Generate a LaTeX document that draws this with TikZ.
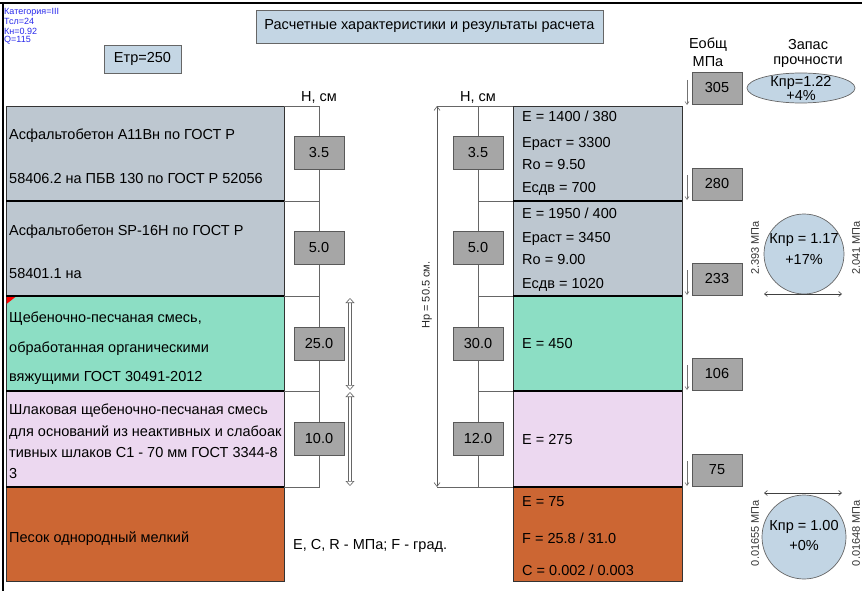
\documentclass[tikz,border=0pt]{standalone}
\usepackage{fontspec}
\setmainfont{Liberation Sans}
\usetikzlibrary{arrows.meta,shapes.geometric}
\newcommand\fmain{\fontsize{14.5}{17}\selectfont}
\newcommand\fsmall{\fontsize{11}{13}\selectfont}
\newcommand\ftiny{\fontsize{9}{10}\selectfont}
\definecolor{layA}{RGB}{189,199,208}
\definecolor{layG}{RGB}{140,222,196}
\definecolor{layP}{RGB}{236,216,240}
\definecolor{layO}{RGB}{204,102,51}
\definecolor{boxgray}{RGB}{166,166,166}
\definecolor{titlefill}{RGB}{196,214,228}
\definecolor{ellfill}{RGB}{194,213,228}
\definecolor{bluetxt}{RGB}{40,40,235}
\begin{document}
\begin{tikzpicture}[x=1pt,y=-1pt,
  every node/.style={inner sep=0pt},
  txt/.style={anchor=base west, font=\fmain, yshift=-5pt},
  ctxt/.style={font=\fmain},
  layer/.style={draw=black!80, line width=0.7pt},
  bound/.style={line width=1.6pt, draw=black},
  hbox/.style={draw=black!65, fill=boxgray, minimum width=50pt, minimum height=33pt, font=\fmain, line width=0.7pt},
  colline/.style={draw=black!60, line width=0.6pt},
  small/.style={font=\fsmall, text=black!80, rotate=90},
  eline/.style={draw=black!55, line width=0.6pt, -{Straight Barb[length=3pt,width=4pt]}},
  harrow/.style={draw=black!75, line width=0.6pt, {Straight Barb[length=3pt,width=5pt]}-{Straight Barb[length=3pt,width=5pt]}},
  darrow/.style={draw=black!60, line width=0.6pt, double=white, double distance=2.5pt, {Triangle[open,length=5pt,width=9pt]}-{Triangle[open,length=5pt,width=9pt]}},
  roundfill/.style={draw=black!60, fill=ellfill, line width=0.7pt}
]
\useasboundingbox (0,0) rectangle (862,591);
% frame
\draw[line width=1.5pt] (0,3) -- (862,3);
\draw[line width=1.5pt] (3,3) -- (3,591);

% top-left info
\node[anchor=west, font=\ftiny, text=bluetxt] (cat) at (4,12) {Категория=III};
\node[anchor=west, font=\ftiny, text=bluetxt] (tsl) at (4,21.5) {Тсл=24};
\node[anchor=west, font=\ftiny, text=bluetxt] (kn) at (4,31) {Кн=0.92};
\node[anchor=west, font=\ftiny, text=bluetxt] (qq) at (4,40.5) {Q=115};

% title and Etr
\node[draw=black!60, fill=titlefill, minimum width=347pt, minimum height=33pt, font=\fmain, line width=0.7pt] (title) at (429.5,26.5) {Расчетные характеристики и результаты расчета};
\node[draw=black!60, fill=titlefill, minimum width=77pt, minimum height=28pt, font=\fmain, line width=0.7pt] (etr) at (142.5,59) {Етр=250};

% left layers
\draw[layer, fill=layA] (6,106) rectangle (284,201);
\draw[layer, fill=layA] (6,201) rectangle (284,296);
\draw[layer, fill=layG] (6,296) rectangle (284,391);
\draw[layer, fill=layP] (6,391) rectangle (284,487);
\draw[layer, fill=layO] (6,487) rectangle (284,581);
\fill[red] (6.5,296.5) -- (16,296.5) -- (6.5,304) -- cycle;
\foreach \yy in {201,296,391,487} \draw[bound] (6,\yy) -- (284,\yy);

% right layers
\draw[layer, fill=layA] (513,106) rectangle (682,201);
\draw[layer, fill=layA] (513,201) rectangle (682,296);
\draw[layer, fill=layG] (513,296) rectangle (682,391);
\draw[layer, fill=layP] (513,391) rectangle (682,487);
\draw[layer, fill=layO] (513,487) rectangle (682,581);
\foreach \yy in {201,296,391,487} \draw[bound] (513,\yy) -- (682,\yy);

% left layer texts
\node[txt] (l1a) at (9,135) {Асфальтобетон А11Вн по ГОСТ Р};
\node[txt] (l1b) at (9,178) {58406.2 на ПБВ 130 по ГОСТ Р 52056};
\node[txt] (l2a) at (9,230) {Асфальтобетон SP-16Н по ГОСТ Р};
\node[txt] (l2b) at (9,273) {58401.1 на};
\node[txt] (l3a) at (9,317) {Щебеночно-песчаная смесь,};
\node[txt] (l3b) at (9,347) {обработанная органическими};
\node[txt] (l3c) at (9,376) {вяжущими ГОСТ 30491-2012};
\node[txt] (l4a) at (9,409) {Шлаковая щебеночно-песчаная смесь};
\node[txt] (l4b) at (9,431) {для оснований из неактивных и слабоак};
\node[txt] (l4c) at (9,452) {тивных шлаков С1 - 70 мм ГОСТ 3344-8};
\node[txt] (l4d) at (9,473) {3};
\node[txt] (l5a) at (9,537) {Песок однородный мелкий};

% right layer texts
\node[txt] (r1a) at (522,117) {E = 1400 / 380};
\node[txt] (r1b) at (522,142) {Ераст = 3300};
\node[txt] (r1c) at (522,164) {Ro = 9.50};
\node[txt] (r1d) at (522,188) {Есдв = 700};
\node[txt] (r2a) at (522,213) {E = 1950 / 400};
\node[txt] (r2b) at (522,237) {Ераст = 3450};
\node[txt] (r2c) at (522,259) {Ro = 9.00};
\node[txt] (r2d) at (522,283) {Есдв = 1020};
\node[txt] (r3a) at (522,343) {E = 450};
\node[txt] (r4a) at (522,439) {E = 275};
\node[txt] (r5a) at (522,501) {E = 75};
\node[txt] (r5b) at (522,538) {F = 25.8 / 31.0};
\node[txt] (r5c) at (522,570) {C = 0.002 / 0.003};

\node[txt] (units) at (293,544) {E, C, R - МПа; F - град.};

% left thickness column
\draw[colline] (284,106) -- (319,106) -- (319,487) -- (284,487);
\foreach \yy in {201,296,391} \draw[colline] (284,\yy) -- (319,\yy);
\node[ctxt] (hl) at (319,97) {Н, см};
\node[hbox] (hl1) at (319,153) {3.5};
\node[hbox] (hl2) at (319,248) {5.0};
\node[hbox] (hl3) at (319,343.5) {25.0};
\node[hbox] (hl4) at (319,438.5) {10.0};

% right thickness column
\draw[colline] (437,106) -- (513,106);
\draw[colline] (437,487) -- (513,487);
\draw[colline] (478,106) -- (478,487);
\foreach \yy in {201,296,391} \draw[colline] (478,\yy) -- (513,\yy);
\node[ctxt] (hr) at (478,97) {Н, см};
\node[hbox] (hr1) at (478,153) {3.5};
\node[hbox] (hr2) at (478,248) {5.0};
\node[hbox] (hr3) at (478,343.5) {30.0};
\node[hbox] (hr4) at (478,438.5) {12.0};

% total thickness dimension
\coordinate (hpt) at (437,106);
\coordinate (hpb) at (437,487);
\draw[draw=black!65, line width=0.6pt, {Straight Barb[length=4pt,width=6pt]}-{Straight Barb[length=4pt,width=6pt]}] (hpt) -- (hpb);
\node[small, text=black!85] (hp) at (427,295) {Нр = 50.5 см.};

% middle double arrows
\coordinate (d1t) at (350,298);
\coordinate (d1b) at (350,390);
\coordinate (d2t) at (350,392);
\coordinate (d2b) at (350,486);
\draw[darrow] (d1t) -- (d1b);
\draw[darrow] (d2t) -- (d2b);

% E total column
\node[ctxt] (eh1) at (708,45) {Еобщ};
\node[ctxt] (eh2) at (708,62) {МПа};
\node[hbox, minimum height=32pt] (e1) at (717,88) {305};
\node[hbox, minimum height=32pt] (e2) at (717,184) {280};
\node[hbox, minimum height=32pt] (e3) at (717,279) {233};
\node[hbox, minimum height=32pt] (e4) at (717,374) {106};
\node[hbox, minimum height=32pt] (e5) at (717,470) {75};
\foreach \yy in {105,200,295,390,486} \draw[eline] (687,\yy-25) -- (687,\yy);

% strength reserve
\node[ctxt] (zh1) at (808,45) {Запас};
\node[ctxt] (zh2) at (808,62) {прочности};
\node[ellipse, roundfill, minimum width=108pt, minimum height=30pt] (ell) at (801,88) {};
\node[ctxt] (ell1) at (801,82.5) {Кпр=1.22};
\node[ctxt] (ell2) at (801,96) {+4\%};

\node[circle, roundfill, minimum size=80pt] (c1) at (804,254) {};
\node[ctxt] (c1a) at (804,240) {Кпр = 1.17};
\node[ctxt] (c1b) at (804,260) {+17\%};
\node[small] (c1l) at (755,248) {2.393 МПа};
\node[small] (c1r) at (856,248) {2.041 МПа};
\coordinate (c1al) at (764,294);
\coordinate (c1ar) at (842,294);
\draw[harrow] (c1al) -- (c1ar);

\node[circle, roundfill, minimum size=84pt] (c2) at (804,537) {};
\node[ctxt] (c2a) at (804,527) {Кпр = 1.00};
\node[ctxt] (c2b) at (804,546) {+0\%};
\node[small] (c2l) at (755,533) {0.01655 МПа};
\node[small] (c2r) at (856,533) {0.01648 МПа};
\coordinate (c2al) at (764,493);
\coordinate (c2ar) at (842,493);
\draw[harrow] (c2al) -- (c2ar);
\end{tikzpicture}
\end{document}
